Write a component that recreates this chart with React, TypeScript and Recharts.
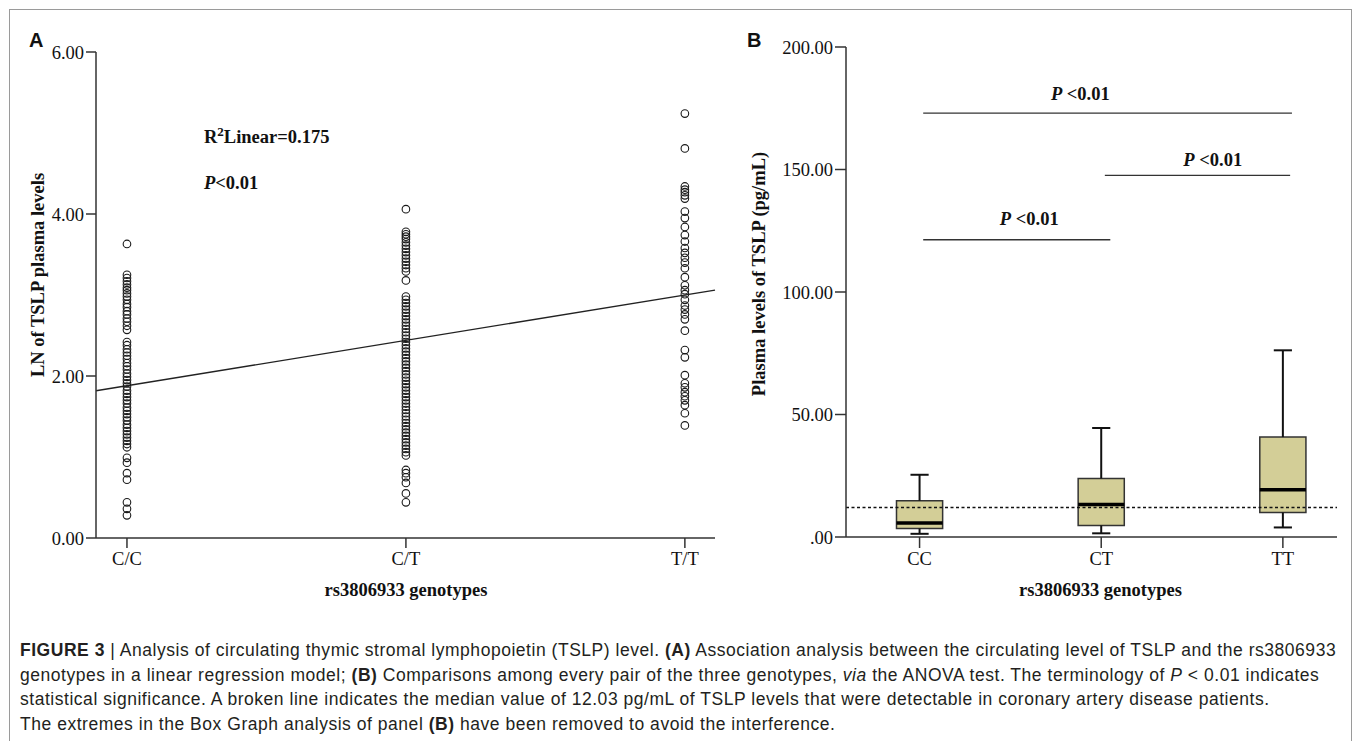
import React from 'react'
import {
  ScatterChart, Scatter, ComposedChart, XAxis, YAxis,
  ReferenceLine, ReferenceArea, ReferenceDot, Label,
} from 'recharts'

// panel A: LN of TSLP per genotype
const genotypesA = ['C/C', 'C/T', 'T/T']
const ccLn = [
  3.63,
  3.25, 3.21, 3.17, 3.13, 3.09, 3.06, 3.02, 2.98, 2.94, 2.89, 2.85, 2.8, 2.76, 2.71, 2.67, 2.62, 2.57,
  2.42, 2.38, 2.33, 2.29, 2.25, 2.21, 2.16, 2.12, 2.08, 2.03, 1.99, 1.95, 1.91, 1.87, 1.82, 1.78,
  1.74, 1.7, 1.66, 1.61, 1.57, 1.53, 1.49, 1.45, 1.4, 1.36, 1.32, 1.28, 1.24, 1.2, 1.16, 1.12,
  0.99, 0.93, 0.8, 0.72,
  0.44, 0.36, 0.28,
]
const ctLn = [
  4.06,
  3.78, 3.75, 3.72, 3.69, 3.65, 3.61, 3.57, 3.53, 3.49, 3.45, 3.41, 3.37, 3.33, 3.29,
  3.18,
  2.98, 2.94, 2.9, 2.86, 2.82, 2.78, 2.74, 2.7, 2.66, 2.62, 2.58, 2.54, 2.5, 2.46, 2.42, 2.38,
  2.34, 2.3, 2.26, 2.22, 2.18, 2.14, 2.1, 2.06, 2.02, 1.98, 1.94, 1.9, 1.86, 1.82, 1.78, 1.74,
  1.7, 1.66, 1.62, 1.58, 1.54, 1.5, 1.46, 1.42, 1.38, 1.34, 1.3, 1.26, 1.22, 1.18, 1.14, 1.1,
  1.06, 1.02,
  0.84, 0.8, 0.75, 0.68, 0.55, 0.44,
]
const ttLn = [
  5.24, 4.81, 4.34, 4.3, 4.27, 4.23, 4.19, 4.03, 3.95, 3.84, 3.74, 3.66, 3.58, 3.52, 3.46, 3.4,
  3.33, 3.22, 3.12, 3.06, 3.01, 2.94, 2.87, 2.82, 2.76, 2.7, 2.56, 2.32, 2.23, 2.01, 1.91, 1.86,
  1.8, 1.75, 1.7, 1.64, 1.54, 1.39,
]
const fitIntercept = 1.88
const fitSlope = 0.56
const r2Text = '0.175'
const lnTicks = [0, 2, 4, 6]

// panel B: box plot of plasma TSLP (pg/mL)
const genotypesB = ['CC', 'CT', 'TT']
const whiskerLow = [1.3, 1.5, 3.9]
const q1 = [3.5, 4.7, 10.0]
const median = [5.7, 13.3, 19.3]
const q3 = [14.8, 23.9, 40.8]
const whiskerHigh = [25.4, 44.5, 76.2]
const overallMedian = 12.03
const tslpTicks = [0, 50, 100, 150, 200]
// significance bars: from genotype, to genotype, height
const sigBars = [
  { from: 0.02, to: 2.05, y: 173 },
  { from: 1.02, to: 2.04, y: 147.6 },
  { from: 0.02, to: 1.05, y: 121.3 },
]
const sigLabels = [
  { x: 0.885, y: 180.9 },
  { x: 1.614, y: 154 },
  { x: 0.604, y: 129.9 },
]

const SERIF = "'Liberation Serif', 'Times New Roman', serif"
const SANS = "'Liberation Sans', Arial, sans-serif"
const INK = '#111'
const AXIS = '#333'

const scatterData = [
  ...ccLn.map((y) => ({ x: 0, y })),
  ...ctLn.map((y) => ({ x: 1, y })),
  ...ttLn.map((y) => ({ x: 2, y })),
]
const boxRows = genotypesB.map((g, i) => ({ x: i, y: median[i], g }))

const A_DOMAIN: [number, number] = [-0.111, 2.108]
const B_DOMAIN: [number, number] = [-0.405, 2.298]
const BOX_HALF = 0.127
const CAP_HALF = 0.05

const tickStyle = { fontSize: 18.5, fill: INK, fontFamily: SERIF }
const lineStyle = { stroke: AXIS, strokeWidth: 1.5 }

const Ring = (p: any) => (
  <circle cx={p.cx} cy={p.cy} r={3.8} fill="none" stroke="#1a1a1a" strokeWidth={1.1} />
)
const Nothing = () => <g />

const yTitle = (text: string, dx: number, dy: number) => (p: any) => {
  const vb = p.viewBox || { x: 0, y: 0, width: 0, height: 0 }
  const cx = vb.x + dx
  const cy = vb.y + vb.height / 2 + dy
  return (
    <text x={cx} y={cy} transform={`rotate(-90 ${cx} ${cy})`} textAnchor="middle"
      dominantBaseline="central" fontFamily={SERIF} fontWeight="bold" fontSize={18.5} fill={INK}>
      {text}
    </text>
  )
}

const xTitle = (text: string, dx: number, dy: number) => (p: any) => {
  const vb = p.viewBox || { x: 0, y: 0, width: 0, height: 0 }
  return (
    <text x={vb.x + vb.width / 2 + dx} y={vb.y + dy} textAnchor="middle"
      fontFamily={SERIF} fontWeight="bold" fontSize={18.5} fill={INK}>
      {text}
    </text>
  )
}

const pText = (anchor: 'start' | 'middle', gap: string) => (p: any) => {
  const vb = p.viewBox || { x: 0, y: 0 }
  return (
    <text x={vb.x + (vb.width || 0) / 2} y={vb.y + (vb.height || 0) / 2} textAnchor={anchor}
      dominantBaseline="central" fontFamily={SERIF} fontWeight="bold" fontSize={18.5} fill={INK}>
      <tspan fontStyle="italic">P</tspan>
      {gap + '<0.01'}
    </text>
  )
}

const r2Label = (p: any) => {
  const vb = p.viewBox || { x: 0, y: 0 }
  return (
    <text x={vb.x} y={vb.y} dominantBaseline="central" fontFamily={SERIF} fontWeight="bold"
      fontSize={18.5} fill={INK}>
      R<tspan fontSize={13} dy={-6}>2</tspan>
      <tspan dy={6}>{'Linear=' + r2Text}</tspan>
    </text>
  )
}

function PanelA() {
  const [x0, x1] = A_DOMAIN
  return (
    <ScatterChart width={730} height={620} margin={{ top: 52, right: 15, bottom: 22, left: 36 }}>
      <XAxis type="number" dataKey="x" domain={A_DOMAIN} ticks={[0, 1, 2]} interval={0}
        tickFormatter={(v: number) => genotypesA[v] ?? ''} height={60} tickSize={10} tickMargin={4}
        tick={tickStyle} axisLine={lineStyle} tickLine={lineStyle}
        label={<Label content={xTitle('rs3806933 genotypes', 0.5, 58)} />} />
      <YAxis type="number" dataKey="y" domain={[0, 6]} ticks={lnTicks} interval={0}
        tickFormatter={(v: number) => v.toFixed(2)} width={60} tickSize={10} tickMargin={2}
        tick={tickStyle} axisLine={lineStyle} tickLine={lineStyle}
        label={<Label content={yTitle('LN of TSLP plasma levels', 2, -20)} />} />
      <ReferenceLine
        segment={[
          { x: x0, y: fitIntercept + fitSlope * x0 },
          { x: x1, y: fitIntercept + fitSlope * x1 },
        ]}
        stroke="#222" strokeWidth={1.3} />
      <Scatter data={scatterData} shape={Ring} isAnimationActive={false} />
      <ReferenceDot x={0.276} y={4.95} r={0} stroke="none" label={<Label content={r2Label} />} />
      <ReferenceDot x={0.276} y={4.38} r={0} stroke="none"
        label={<Label content={pText('start', '')} />} />
    </ScatterChart>
  )
}

function PanelB() {
  return (
    <ComposedChart data={boxRows} width={650} height={620}
      margin={{ top: 47, right: 13, bottom: 23, left: 80 }}>
      <XAxis type="number" dataKey="x" domain={B_DOMAIN} ticks={[0, 1, 2]} interval={0}
        tickFormatter={(v: number) => genotypesB[v] ?? ''} height={60} tickSize={11} tickMargin={4}
        tick={tickStyle} axisLine={lineStyle} tickLine={lineStyle}
        label={<Label content={xTitle('rs3806933 genotypes', 9, 59)} />} />
      <YAxis type="number" dataKey="y" domain={[0, 200]} ticks={tslpTicks} interval={0}
        tickFormatter={(v: number) => (v === 0 ? '.00' : v.toFixed(2))} width={66} tickSize={11}
        tickMargin={2} tick={tickStyle} axisLine={lineStyle} tickLine={lineStyle}
        label={<Label content={yTitle('Plasma levels of TSLP (pg/mL)', -21, -18)} />} />

      {/* invisible anchor series so both axes get their scales */}
      <Scatter data={boxRows} dataKey="y" shape={Nothing} isAnimationActive={false} />

      {genotypesB.map((g, i) => (
        <ReferenceLine key={g + 'wl'} segment={[{ x: i, y: whiskerLow[i] }, { x: i, y: q1[i] }]}
          stroke="#111" strokeWidth={2} />
      ))}
      {genotypesB.map((g, i) => (
        <ReferenceLine key={g + 'wh'} segment={[{ x: i, y: q3[i] }, { x: i, y: whiskerHigh[i] }]}
          stroke="#111" strokeWidth={2} />
      ))}
      {genotypesB.map((g, i) => (
        <ReferenceLine key={g + 'cl'}
          segment={[{ x: i - CAP_HALF, y: whiskerLow[i] }, { x: i + CAP_HALF, y: whiskerLow[i] }]}
          stroke="#111" strokeWidth={2} />
      ))}
      {genotypesB.map((g, i) => (
        <ReferenceLine key={g + 'ch'}
          segment={[{ x: i - CAP_HALF, y: whiskerHigh[i] }, { x: i + CAP_HALF, y: whiskerHigh[i] }]}
          stroke="#111" strokeWidth={2} />
      ))}
      {genotypesB.map((g, i) => (
        <ReferenceArea key={g + 'box'} x1={i - BOX_HALF} x2={i + BOX_HALF} y1={q1[i]} y2={q3[i]}
          fill="#d3ce97" fillOpacity={1} stroke="#333" strokeWidth={1.5} />
      ))}
      {genotypesB.map((g, i) => (
        <ReferenceLine key={g + 'md'}
          segment={[{ x: i - BOX_HALF, y: median[i] }, { x: i + BOX_HALF, y: median[i] }]}
          stroke="#000" strokeWidth={3.5} />
      ))}

      <ReferenceLine y={overallMedian} stroke="#111" strokeWidth={1.5} strokeDasharray="3 2.5" />

      {sigBars.map((b, i) => (
        <ReferenceLine key={'sig' + i} segment={[{ x: b.from, y: b.y }, { x: b.to, y: b.y }]}
          stroke="#333" strokeWidth={1.4} />
      ))}
      {sigLabels.map((l, i) => (
        <ReferenceDot key={'sl' + i} x={l.x} y={l.y} r={0} stroke="none"
          label={<Label content={pText('middle', ' ')} />} />
      ))}
    </ComposedChart>
  )
}

export default function App() {
  return (
    <div style={{ position: 'absolute', left: 0, top: 0, width: 1357, height: 741, overflow: 'hidden', background: '#fff' }}>
      <div style={{ position: 'absolute', left: 9, top: 9, width: 1341, height: 800, border: '1px solid #9a9a9a' }} />
      <div style={{ position: 'absolute', left: 0, top: 0 }}>
        <PanelA />
      </div>
      <div style={{ position: 'absolute', left: 700, top: 0 }}>
        <PanelB />
      </div>
      <div style={{ position: 'absolute', left: 29, top: 30, fontFamily: SANS, fontWeight: 'bold', fontSize: 20, lineHeight: '20px', color: INK }}>A</div>
      <div style={{ position: 'absolute', left: 747, top: 30, fontFamily: SANS, fontWeight: 'bold', fontSize: 20, lineHeight: '20px', color: INK }}>B</div>
      <div style={{ position: 'absolute', left: 20, top: 638, fontFamily: SANS, fontSize: 17.5, letterSpacing: 0.53, lineHeight: '24.5px', color: '#231f20', whiteSpace: 'nowrap' }}>
        <b>FIGURE 3</b> | Analysis of circulating thymic stromal lymphopoietin (TSLP) level. <b>(A)</b> Association analysis between the circulating level of TSLP and the rs3806933
        <br />
        genotypes in a linear regression model; <b>(B)</b> Comparisons among every pair of the three genotypes, <i>via</i> the ANOVA test. The terminology of <i>P</i> &lt; 0.01 indicates
        <br />
        statistical significance. A broken line indicates the median value of 12.03 pg/mL of TSLP levels that were detectable in coronary artery disease patients.
        <br />
        The extremes in the Box Graph analysis of panel <b>(B)</b> have been removed to avoid the interference.
      </div>
    </div>
  )
}
